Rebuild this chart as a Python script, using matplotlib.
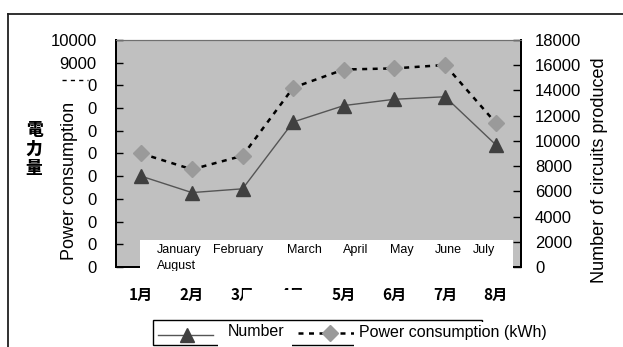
import matplotlib
matplotlib.use("Agg")
import matplotlib.pyplot as plt
from matplotlib.patches import Rectangle
from matplotlib.lines import Line2D
from matplotlib.transforms import Bbox

# ---- data -------------------------------------------------------------
months_cn = ["1月", "2月", "3月", "4月", "5月", "6月", "7月", "8月"]
months_en = ["January", "February", "March", "April", "May", "June", "July", "August"]
circuits = [7200, 5900, 6200, 11500, 12800, 13300, 13500, 9700]   # right axis
power = [5000, 4300, 4900, 7900, 8700, 8750, 8900, 6350]          # left axis, kWh

left_ticks = list(range(0, 10001, 1000))
left_tick_labels = ["0", "0", "0", "0", "0", "0", "0", "0", "0", "9000", "10000"]
right_ticks = list(range(0, 18001, 2000))
right_tick_labels = [str(v) for v in right_ticks]

# ---- layout helpers (pixel coordinates measured from the top-left) -----
W, H = 623, 347


def fx(x):
    return x / W


def fy(y):
    return 1 - y / H


LAT = "Liberation Sans"
CJK = ["Noto Sans CJK JP", "Liberation Sans"]

fig = plt.figure(figsize=(W / 100, H / 100), dpi=100)
fig.patch.set_facecolor("white")

ax_l, ax_r, ax_t, ax_b = 116, 521, 40, 267
ax = fig.add_axes([fx(ax_l), fy(ax_b), (ax_r - ax_l) / W, (ax_b - ax_t) / H])
ax.set_facecolor("#c0c0c0")
ax2 = ax.twinx()

x = list(range(len(months_cn)))

ax.plot(x, power, color="black", lw=1.8, linestyle=(0, (2, 2.2)), zorder=2)
ax.plot(x, power, linestyle="none", marker="D", markersize=8,
        color="#9a9a9a", zorder=3)
ax2.plot(x, circuits, color="#555555", lw=1.0, marker="^", markersize=10,
         markerfacecolor="#404040", markeredgecolor="#404040")

ax.set_xlim(-0.5, 7.5)
ax.set_ylim(0, 10000)
ax2.set_ylim(0, 18000)

ax.set_yticks(left_ticks)
ax.set_yticklabels(left_tick_labels, fontfamily=LAT, fontsize=12)
ax2.set_yticks(right_ticks)
ax2.set_yticklabels(right_tick_labels, fontfamily=LAT, fontsize=12)
ax.tick_params(axis="y", direction="in", length=5, width=1, pad=14)
ax2.tick_params(axis="y", direction="in", length=6, width=1, pad=10)

ax.set_xticks(x)
ax.set_xticklabels(months_cn, fontfamily=CJK, fontsize=11, fontweight="bold")
ax.tick_params(axis="x", length=0, pad=14)

for a in (ax, ax2):
    a.spines["left"].set_linewidth(1.4)
    a.spines["right"].set_linewidth(1.4)
    a.spines["bottom"].set_linewidth(1.4)
    a.spines["top"].set_linewidth(0.8)
    a.spines["top"].set_color("#707070")

# axis titles
fig.text(fx(70), fy(181), "Power consumption", rotation=90, ha="center",
         va="center", fontfamily=LAT, fontsize=13)
fig.text(fx(600), fy(170), "Number of circuits produced", rotation=90,
         ha="center", va="center", fontfamily=LAT, fontsize=13)
fig.text(fx(34), fy(149), "電\n力\n量", ha="center", va="center",
         fontfamily=CJK, fontsize=12, fontweight="heavy", linespacing=1.05)

# short dashes beside the 8000 tick
fig.add_artist(Line2D([fx(62), fx(88)], [fy(80), fy(80)], color="black",
                      lw=1, linestyle=(0, (3, 3))))

# white caption panel over the lower part of the plot
panel = Rectangle((fx(140), fy(271)), fx(513) - fx(140), fy(240) - fy(271),
                  transform=fig.transFigure, facecolor="white",
                  edgecolor="none", zorder=5)
fig.add_artist(panel)
panel_clip = Bbox.from_extents(140, H - 271, 513, H - 240)

en_x = [157, 213, 287, 343, 390, 435, 473, 157]
en_y = [250, 250, 250, 250, 250, 250, 250, 266]
for name, px_, py_ in zip(months_en, en_x, en_y):
    t = fig.text(fx(px_), fy(py_), name, ha="left", va="center",
                 fontfamily=LAT, fontsize=9, zorder=6)
    t.set_clip_box(panel_clip)
    t.set_clip_on(True)

# patch hiding part of the 3月 / 4月 labels
fig.add_artist(Rectangle((fx(243), fy(303)), fx(331) - fx(243),
                         fy(290) - fy(303), transform=fig.transFigure,
                         facecolor="white", edgecolor="none", zorder=5))

# outer frame (top and left edges)
fig.add_artist(Line2D([fx(8), fx(623)], [fy(14), fy(14)], color="#202020", lw=1.3))
fig.add_artist(Line2D([fx(8), fx(8)], [fy(14), fy(347)], color="#202020", lw=1.3))

# legend
fig.add_artist(Rectangle((fx(153), fy(345)), fx(482) - fx(153),
                         fy(320) - fy(345), transform=fig.transFigure,
                         facecolor="white", edgecolor="black", lw=1.0, zorder=5))
fig.add_artist(Line2D([fx(158), fx(213)], [fy(335), fy(335)], color="#555555",
                      lw=1.0, zorder=6))
fig.add_artist(Line2D([fx(187)], [fy(335)], marker="^", markersize=10,
                      color="#404040", zorder=6))
fig.add_artist(Line2D([fx(298), fx(362)], [fy(333), fy(333)], color="black",
                      lw=1.8, linestyle=(0, (2, 2.2)), zorder=6))
fig.add_artist(Line2D([fx(330)], [fy(333)], marker="D", markersize=8,
                      color="#9a9a9a", zorder=7))
fig.add_artist(Rectangle((fx(218), fy(347)), fx(292) - fx(218),
                         fy(322) - fy(347), transform=fig.transFigure,
                         facecolor="white", edgecolor="none", zorder=7))
fig.text(fx(228), fy(332), "Number", ha="left", va="center",
         fontfamily=LAT, fontsize=11.5, zorder=8)
fig.add_artist(Rectangle((fx(354), fy(347)), fx(548) - fx(354),
                         fy(322) - fy(347), transform=fig.transFigure,
                         facecolor="white", edgecolor="none", zorder=7))
fig.text(fx(359), fy(332), "Power consumption (kWh)", ha="left", va="center",
         fontfamily=LAT, fontsize=11.5, zorder=8)

fig.savefig("out.png", dpi=100)
